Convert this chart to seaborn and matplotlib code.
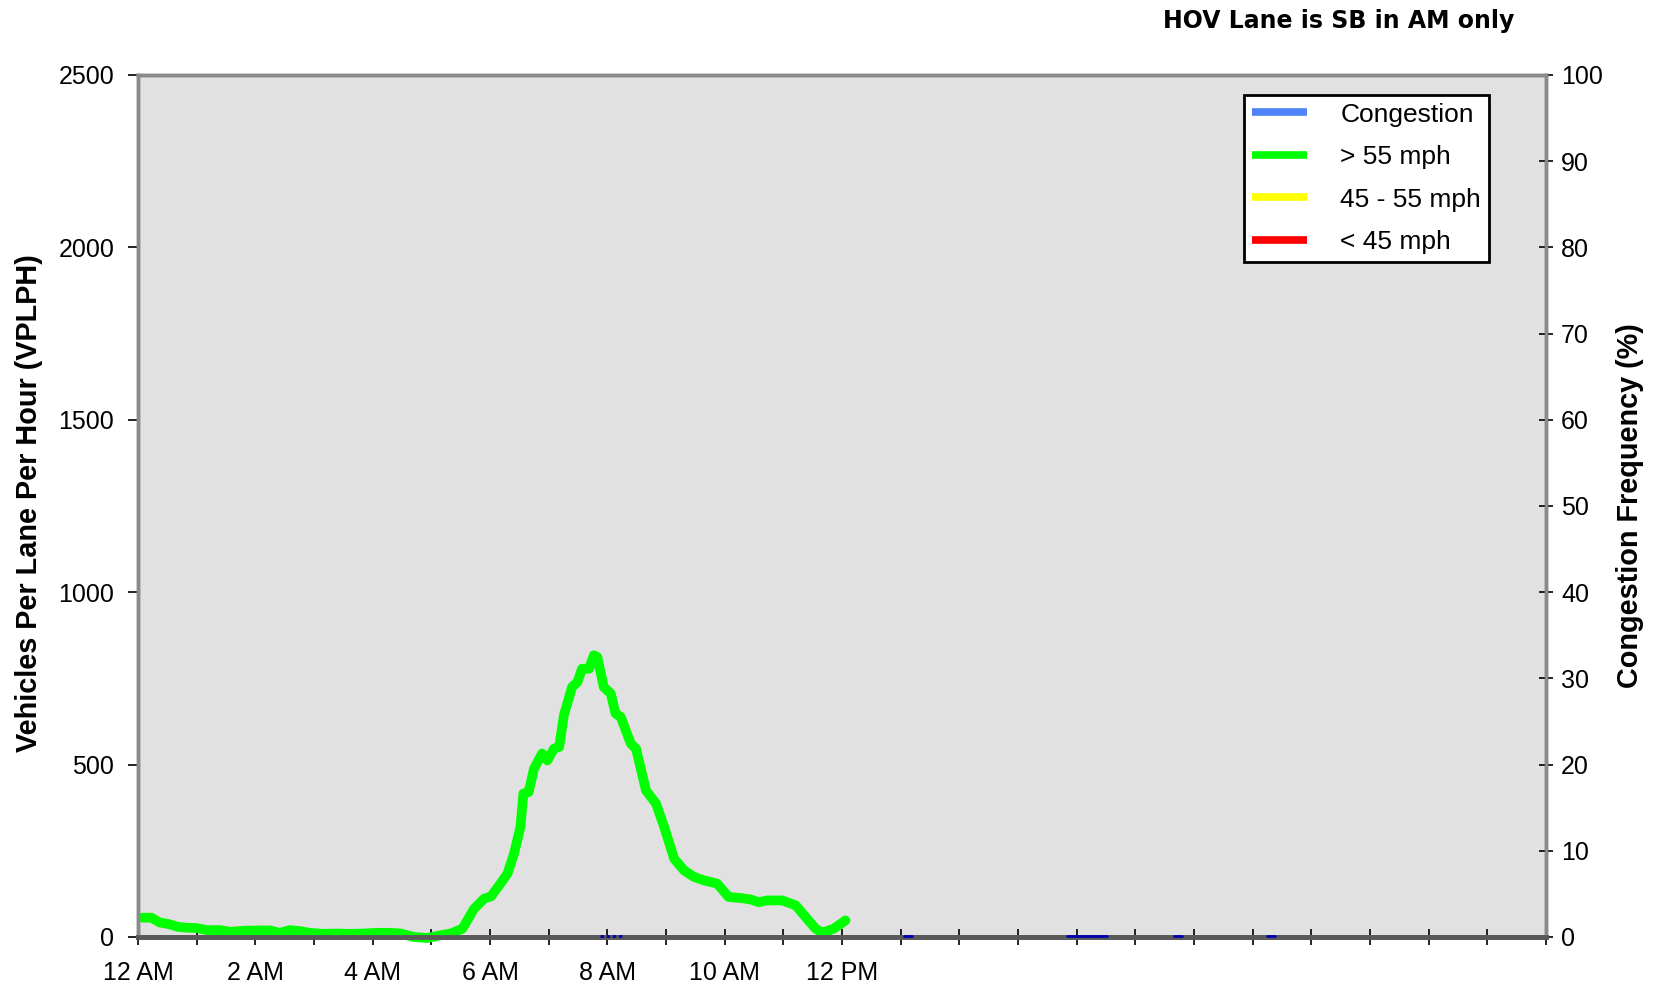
#!/usr/bin/env python3

import matplotlib
matplotlib.use("Agg")
import matplotlib.pyplot as plt
from matplotlib.lines import Line2D
import pandas as pd
import seaborn as sns

sns.set_theme(style="white", rc={
    "text.color": "black", "axes.labelcolor": "black",
    "xtick.color": "black", "ytick.color": "black",
})
plt.rcParams["font.family"] = ["Liberation Sans", "DejaVu Sans"]

# Volume (veh/lane/hour), hour of day
hours = [0.08, 0.23, 0.37, 0.51, 0.69, 0.83, 1.0, 1.17, 1.4, 1.57, 1.8, 2.02,
         2.25, 2.42, 2.59, 2.76, 2.93, 3.16, 3.39, 3.61, 3.84, 4.07, 4.3, 4.48,
         4.7, 4.93, 5.16, 5.33, 5.53, 5.73, 5.9, 6.02, 6.18, 6.3, 6.41, 6.52,
         6.57, 6.66, 6.75, 6.89, 6.98, 7.09, 7.18, 7.26, 7.4, 7.49, 7.57, 7.69,
         7.77, 7.83, 7.94, 8.06, 8.14, 8.23, 8.4, 8.49, 8.66, 8.83, 8.97, 9.14,
         9.31, 9.48, 9.65, 9.87, 10.07, 10.27, 10.44, 10.58, 10.73, 10.98,
         11.21, 11.38, 11.55, 11.67, 11.86, 12.06]
vplph = [56, 56, 42, 38, 29, 27, 26, 20, 20, 15, 18, 19,
         19, 12, 20, 17, 12, 9, 10, 9, 10, 12, 12, 10,
         0, -3, 5, 10, 24, 82, 111, 118, 155, 184, 242, 319,
         416, 420, 488, 532, 512, 546, 551, 643, 725, 739, 778, 778,
         817, 812, 725, 706, 648, 638, 561, 546, 425, 387, 319, 227,
         193, 174, 164, 155, 116, 113, 109, 101, 106, 106,
         92, 58, 24, 13, 24, 48]

# Congestion frequency (%), short stretches near zero
cong_start = [7.88, 13.06, 15.83, 17.66, 19.24]
cong_end = [8.26, 13.19, 16.52, 17.80, 19.38]
cong_pct = [0.15, 0.15, 0.15, 0.15, 0.15]

tick_hours = list(range(25))
tick_labels = ["12 AM", "", "2 AM", "", "4 AM", "", "6 AM", "", "8 AM", "",
               "10 AM", "", "12 PM"] + [""] * 12

legend_labels = ["Congestion", "> 55 mph", "45 - 55 mph", "< 45 mph"]
legend_colors = ["#4f82f7", "#00ff00", "#ffff00", "#ff0000"]

vol = pd.DataFrame({"Hour": hours, "VPLPH": vplph})
cong = pd.DataFrame({
    "Hour": cong_start + cong_end,
    "Pct": cong_pct + cong_pct,
    "Seg": list(range(len(cong_start))) * 2,
})

fig = plt.figure(figsize=(16.6, 9.89), dpi=100)
ax = fig.add_axes([0.0831, 0.0526, 0.9313 - 0.0831, 0.9242 - 0.0526])
ax.set_facecolor("#e1e1e1")

sns.lineplot(x="Hour", y="VPLPH", data=vol, ax=ax, color="#00ff00",
             lw=7, clip_on=False, zorder=5)

ax.set(xlim=(0, 24), ylim=(0, 2500), xticks=tick_hours,
       yticks=range(0, 2501, 500))
ax.set_xticklabels(tick_labels)
ax.xaxis.label.set_visible(False)
ax.yaxis.label.set_visible(False)
ax.tick_params(axis="y", direction="out", length=7, width=1.2,
               labelsize=18, pad=10, left=True)
ax.tick_params(axis="x", direction="inout", length=11, width=1.2,
               labelsize=18, pad=12, bottom=True)

ax2 = ax.twinx()
sns.lineplot(x="Hour", y="Pct", units="Seg", estimator=None, data=cong,
             ax=ax2, color="#0000b0", lw=2, dashes=False, clip_on=False,
             zorder=6)
ax2.lines[0].set_dashes((1.3, 0.9))
ax2.set(ylim=(0, 100), yticks=range(0, 101, 10))
ax2.yaxis.label.set_visible(False)
ax2.tick_params(axis="y", direction="inout", length=10, width=1.2,
                labelsize=18, pad=6, right=True)

for a in (ax, ax2):
    for side in ["top", "left", "right"]:
        a.spines[side].set_color("#8a8a8a")
        a.spines[side].set_linewidth(2.5)
    a.spines["bottom"].set_color("#5a5a5a")
    a.spines["bottom"].set_linewidth(3.5)

handles = [Line2D([], [], color=c, lw=5.5, solid_capstyle="butt")
           for c in legend_colors]
leg = ax2.legend(handles=handles, labels=legend_labels, loc="upper right",
                 bbox_to_anchor=(0.9595, 0.977), borderaxespad=0,
                 fontsize=19, frameon=True, fancybox=False, framealpha=1,
                 edgecolor="black", handlelength=2.1, handletextpad=1.25,
                 labelspacing=0.7, borderpad=0.3)
leg.get_frame().set_linewidth(2)

fig.text(0.0172, 0.4914, "Vehicles Per Lane Per Hour (VPLPH)",
         rotation=90, ha="center", va="center", fontsize=20.8,
         fontweight="bold")
fig.text(0.982, 0.489, "Congestion Frequency (%)",
         rotation=90, ha="center", va="center", fontsize=20.8,
         fontweight="bold")
fig.text(0.912, 0.9788, "HOV Lane is SB in AM only", ha="right",
         va="center", fontsize=17, fontweight="bold", family="DejaVu Sans")

fig.savefig("out.png", dpi=100)
